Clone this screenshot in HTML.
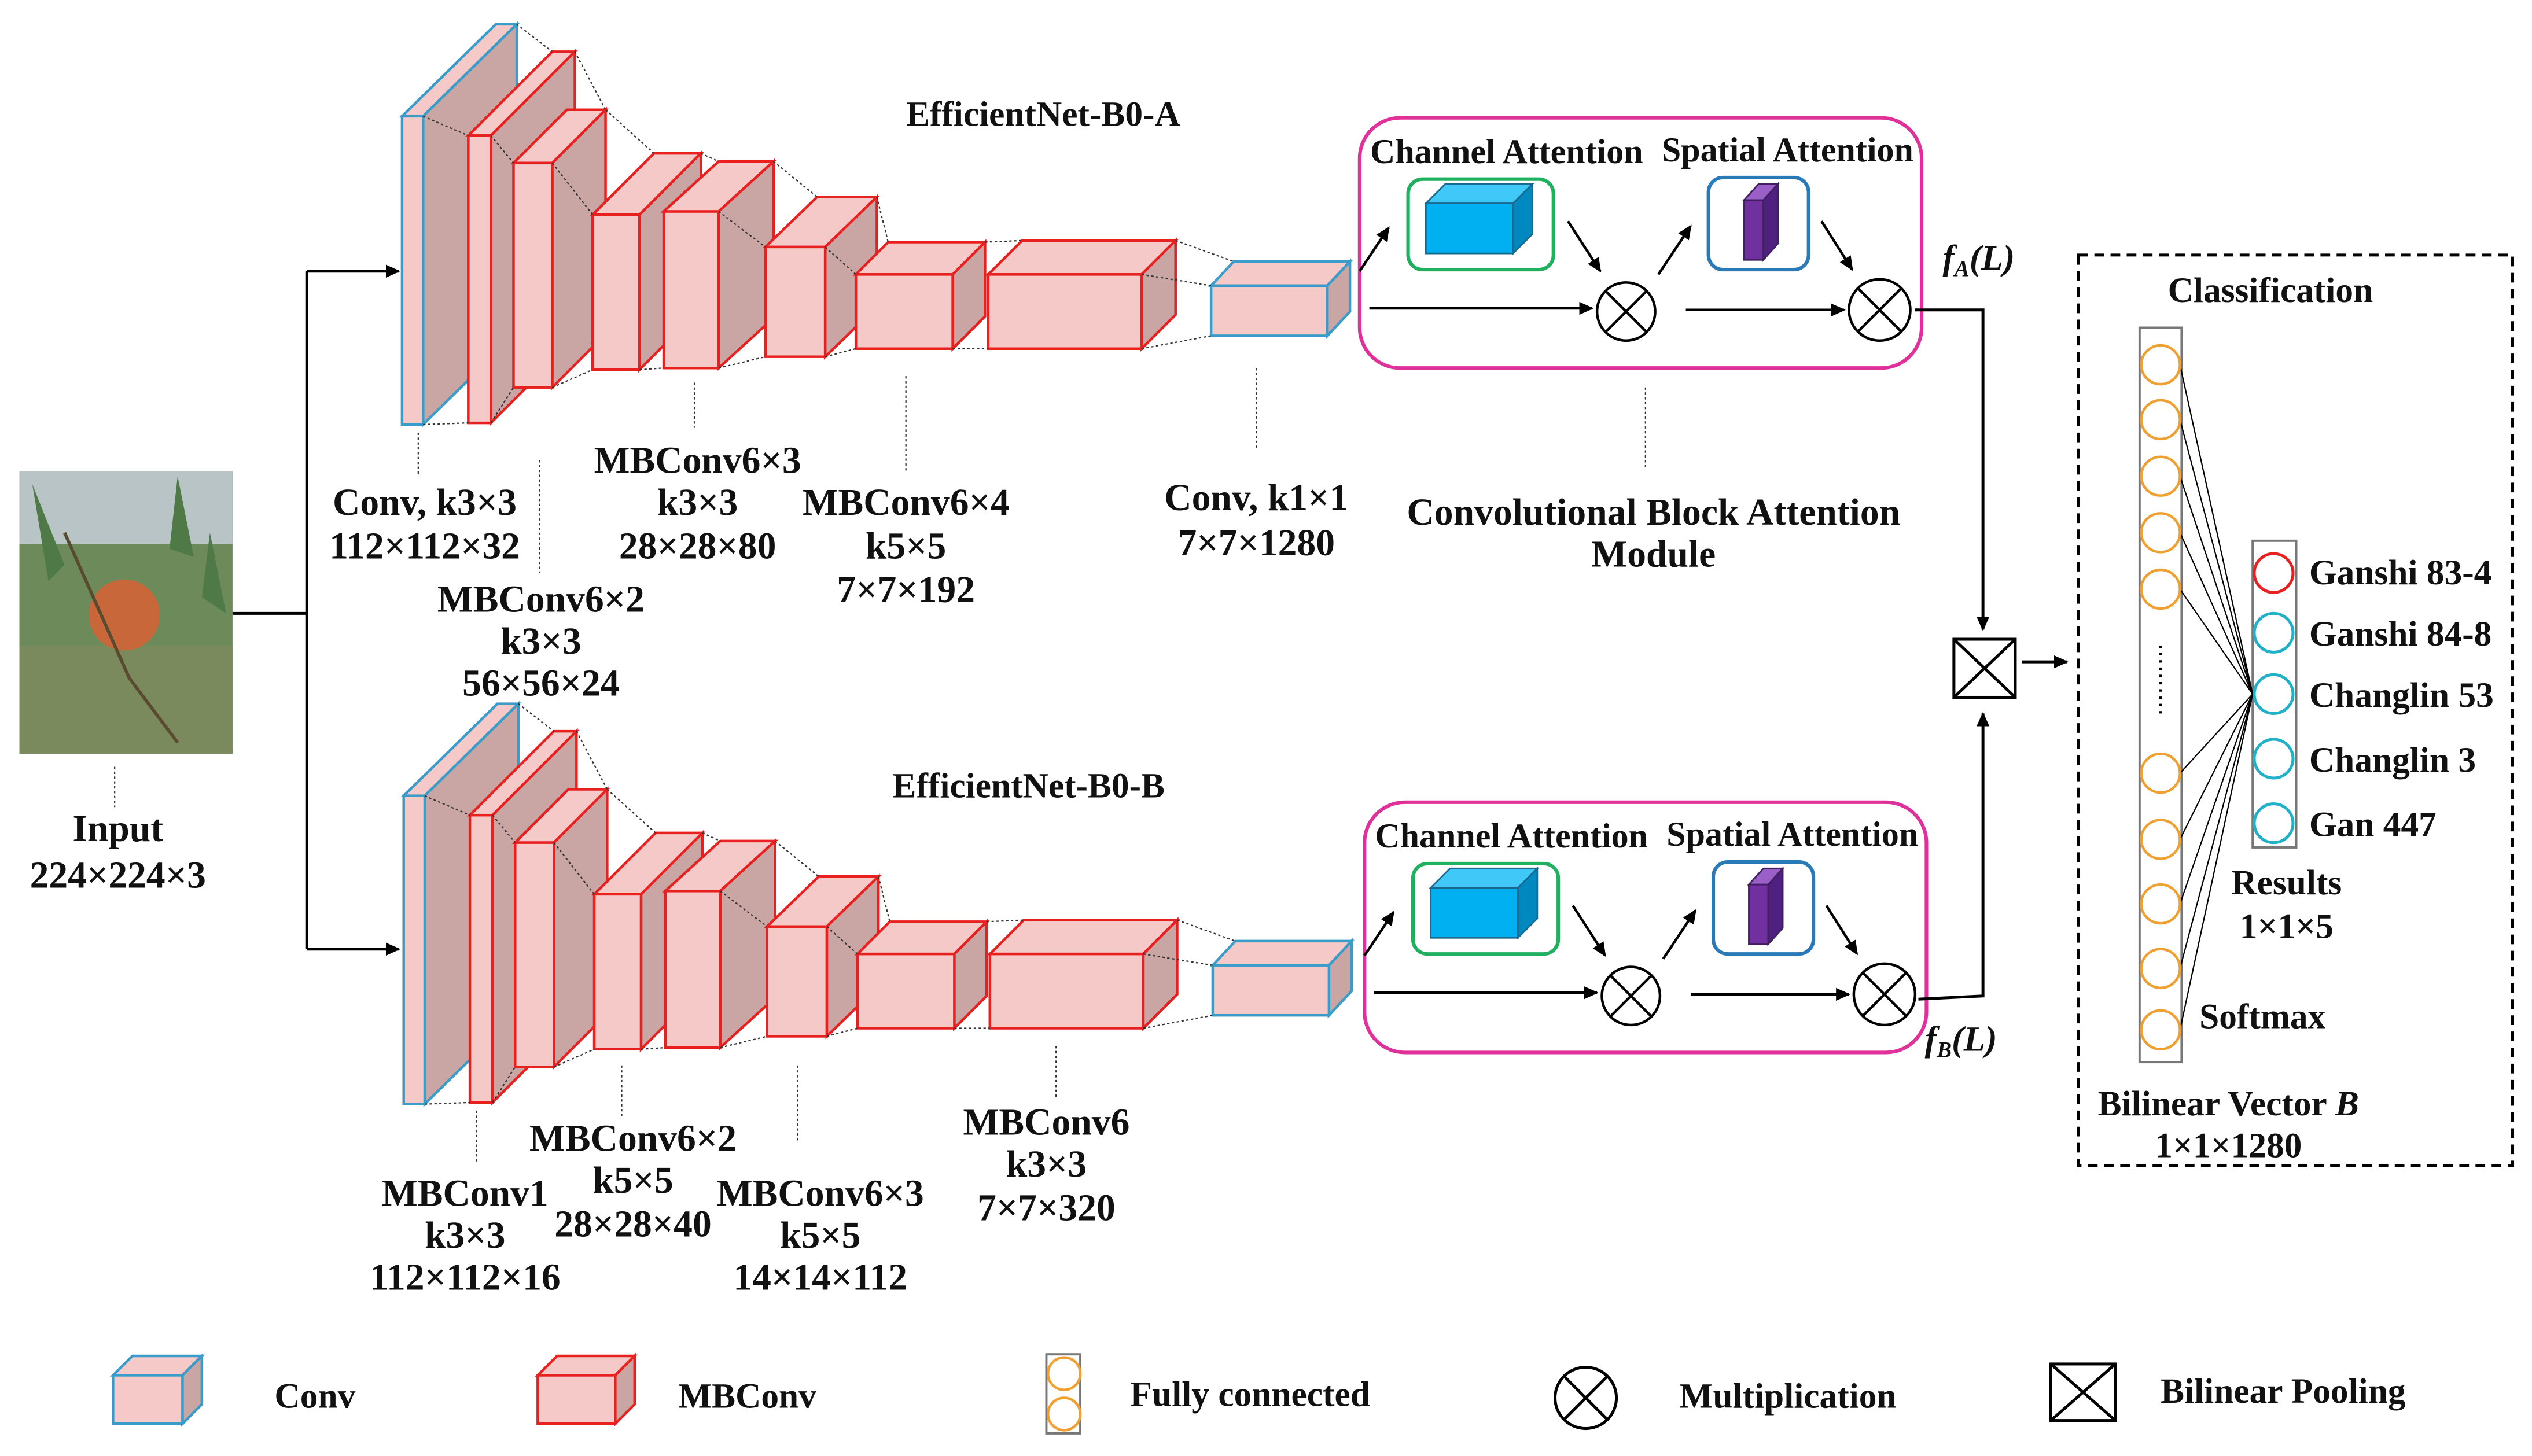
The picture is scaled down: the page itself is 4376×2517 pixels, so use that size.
<!DOCTYPE html>
<html><head><meta charset="utf-8"><style>
html,body{margin:0;padding:0;background:#fff;}
svg{display:block;}
text{font-family:"Liberation Serif",serif;font-weight:bold;fill:#111;}
</style></head><body>
<svg width="4376" height="2517" viewBox="0 0 1568 902" preserveAspectRatio="none" xmlns="http://www.w3.org/2000/svg">
<defs>
<marker id="ar" markerWidth="10" markerHeight="10" refX="8" refY="5" orient="auto" markerUnits="userSpaceOnUse"><path d="M0,1 L9,5 L0,9 z" fill="#000"/></marker>
<g id="net">
 <g fill="#f5c9c7" stroke-width="1.6">
  <g stroke="#3a9cc8">
   <polygon points="249,72 307,15 320,15 262,72"/><polygon points="262,72 320,15 320,206 262,263" fill="#c9a5a3"/><rect x="249" y="72" width="13" height="191"/>
  </g>
  <g stroke="#e82020">
   <polygon points="290,84 342,32 356,32 304,84"/><polygon points="304,84 356,32 356,210 304,262" fill="#c9a5a3"/><rect x="290" y="84" width="14" height="178"/>
   <polygon points="318,101 351,68 375,68 342,101"/><polygon points="342,101 375,68 375,207 342,240" fill="#c9a5a3"/><rect x="318" y="101" width="24" height="139"/>
   <polygon points="367,133 405,95 434,95 396,133"/><polygon points="396,133 434,95 434,191 396,229" fill="#c9a5a3"/><rect x="367" y="133" width="29" height="96"/>
   <polygon points="411,131 445,100 479,100 445,131"/><polygon points="445,131 479,100 479,197 445,228" fill="#c9a5a3"/><rect x="411" y="131" width="34" height="97"/>
   <polygon points="474,153 506,122 543,122 511,153"/><polygon points="511,153 543,122 543,190 511,221" fill="#c9a5a3"/><rect x="474" y="153" width="37" height="68"/>
   <polygon points="530,170 550,150 610,150 590,170"/><polygon points="590,170 610,150 610,196 590,216" fill="#c9a5a3"/><rect x="530" y="170" width="60" height="46"/>
   <polygon points="612,170 633,149 728,149 707,170"/><polygon points="707,170 728,149 728,195 707,216" fill="#c9a5a3"/><rect x="612" y="170" width="95" height="46"/>
  </g>
  <g stroke="#3a9cc8">
   <polygon points="750,177 764,162 836,162 822,177"/><polygon points="822,177 836,162 836,193 822,208" fill="#c9a5a3"/><rect x="750" y="177" width="72" height="31"/>
  </g>
 </g>
 <g stroke="#333" stroke-width="0.8" stroke-dasharray="1.5,1.5" fill="none">
  <path d="M320,15 L342,32 M356,32 L375,68 M375,68 L405,95 M434,95 L445,100 M479,100 L506,122 M543,122 L550,150 M610,150 L633,149 M728,149 L764,162"/>
  <path d="M262,263 L290,262 M304,262 L318,240 M342,240 L367,229 M396,229 L411,228 M445,228 L474,221 M511,221 L530,216 M590,216 L612,216 M707,216 L750,208 M707,170 L750,177"/>
  <path d="M262,72 L290,84 M304,84 L318,101 M342,101 L367,133 M445,131 L474,153 M511,153 L530,170"/>
 </g>
</g>
<g id="cbam">
 <rect x="842" y="73" width="348" height="155" rx="25" fill="none" stroke="#e0309a" stroke-width="2.2"/>
 <rect x="872" y="111" width="90" height="56" rx="9" fill="none" stroke="#20b060" stroke-width="2.2"/>
 <polygon points="883,126 895,114 949,114 937,126" fill="#40c8f8" stroke="#1a6a90"/>
 <polygon points="937,126 949,114 949,145 937,157" fill="#0088c0" stroke="#1a6a90"/>
 <rect x="883" y="126" width="54" height="31" fill="#00b0f0" stroke="#1a6a90"/>
 <rect x="1058" y="110" width="62" height="57" rx="9" fill="none" stroke="#2a7ab8" stroke-width="2.2"/>
 <polygon points="1080,124 1089,114 1101,114 1092,124" fill="#9a60c8" stroke="#402060"/>
 <polygon points="1092,124 1101,114 1101,151 1092,161" fill="#502080" stroke="#402060"/>
 <rect x="1080" y="124" width="12" height="37" fill="#7030a0" stroke="#402060"/>
 <g fill="none" stroke="#000" stroke-width="1.6">
  <circle cx="1007" cy="193" r="18"/><path d="M994,180 L1020,206 M1020,180 L994,206"/>
  <circle cx="1164" cy="192" r="19"/><path d="M1151,179 L1177,205 M1177,179 L1151,205"/>
  <path d="M842,168 L860,141" marker-end="url(#ar)"/>
  <path d="M848,191 L986,191" marker-end="url(#ar)"/>
  <path d="M971,137 L991,168" marker-end="url(#ar)"/>
  <path d="M1027,170 L1047,140" marker-end="url(#ar)"/>
  <path d="M1044,192 L1142,192" marker-end="url(#ar)"/>
  <path d="M1128,137 L1147,167" marker-end="url(#ar)"/>
 </g>
 <text x="933" y="101" font-size="21.5" text-anchor="middle">Channel Attention</text>
 <text x="1107" y="100" font-size="21.5" text-anchor="middle">Spatial Attention</text>
</g>
</defs>

<use href="#net"/>
<use href="#net" transform="translate(1,421)"/>
<use href="#cbam"/>
<use href="#cbam" transform="translate(3,424)"/>

<!-- input image -->
<rect x="12" y="292" width="132" height="175" fill="#6d8a5a"/>
<rect x="12" y="292" width="132" height="45" fill="#b8c4c6"/>
<path d="M20,300 L40,350 L30,360 Z M110,295 L120,345 L105,340 Z M130,330 L140,380 L125,370 Z" fill="#4f7a48"/>
<rect x="12" y="400" width="132" height="67" fill="#7a8a5c"/>
<circle cx="77" cy="381" r="22" fill="#c8683a"/>
<path d="M40,330 L80,420 L110,460" stroke="#5a4a30" stroke-width="2" fill="none"/>
<g stroke="#333" stroke-width="0.8" stroke-dasharray="1.5,1.5">
 <path d="M71,475 L71,500 M259,268 L259,295 M334,285 L334,355 M430,237 L430,265 M561,233 L561,293 M778,228 L778,278 M1019,240 L1019,290"/>
 <path d="M295,688 L295,720 M385,660 L385,692 M494,660 L494,707 M654,648 L654,680"/>
</g>
<g fill="none" stroke="#000" stroke-width="1.8">
 <path d="M144,380 L190,380 M190,168 L190,588"/>
 <path d="M190,168 L247,168" marker-end="url(#ar)"/>
 <path d="M190,588 L247,588" marker-end="url(#ar)"/>
 <path d="M1186,192 L1228,192 L1228,390" marker-end="url(#ar)"/>
 <path d="M1188,619 L1228,617 L1228,442" marker-end="url(#ar)"/>
 <rect x="1210" y="396" width="38" height="36"/>
 <path d="M1210,396 L1248,432 M1248,396 L1210,432"/>
 <path d="M1252,410 L1280,410" marker-end="url(#ar)"/>
</g>

<!-- classification -->
<rect x="1287" y="158" width="269" height="564" fill="none" stroke="#000" stroke-width="1.8" stroke-dasharray="6,4"/>
<rect x="1325" y="203" width="26" height="455" fill="none" stroke="#777" stroke-width="1.4"/>
<rect x="1395" y="335" width="27" height="190" fill="none" stroke="#777" stroke-width="1.4"/>
<g stroke="#000" stroke-width="0.8">
 <path d="M1350,226 L1395,430 M1350,260 L1395,430 M1350,295 L1395,430 M1350,330 L1395,430 M1350,365 L1395,430 M1350,479 L1395,430 M1350,520 L1395,430 M1350,560 L1395,430 M1350,600 L1395,430 M1350,638 L1395,430"/>
</g>
<g fill="#fff" stroke="#f0a030" stroke-width="1.6">
 <circle cx="1338" cy="226" r="12"/><circle cx="1338" cy="260" r="12"/><circle cx="1338" cy="295" r="12"/><circle cx="1338" cy="330" r="12"/><circle cx="1338" cy="365" r="12"/>
 <circle cx="1338" cy="479" r="12"/><circle cx="1338" cy="520" r="12"/><circle cx="1338" cy="560" r="12"/><circle cx="1338" cy="600" r="12"/><circle cx="1338" cy="638" r="12"/>
</g>
<path d="M1338,400 L1338,445" stroke="#000" stroke-width="1.5" stroke-dasharray="1.5,3"/>
<g fill="#fff" stroke-width="1.8">
 <circle cx="1408" cy="355" r="12" stroke="#e82020"/>
 <circle cx="1408" cy="392" r="12" stroke="#20b0c8"/>
 <circle cx="1408" cy="430" r="12" stroke="#20b0c8"/>
 <circle cx="1408" cy="470" r="12" stroke="#20b0c8"/>
 <circle cx="1408" cy="510" r="12" stroke="#20b0c8"/>
</g>

<!-- legend -->
<g stroke-width="1.6" fill="#f5c9c7">
 <polygon points="70,852 82,840 125,840 113,852" stroke="#3a9cc8"/><polygon points="113,852 125,840 125,870 113,882" fill="#c9a5a3" stroke="#3a9cc8"/><rect x="70" y="852" width="43" height="30" stroke="#3a9cc8"/>
 <polygon points="333,852 345,840 393,840 381,852" stroke="#e82020"/><polygon points="381,852 393,840 393,870 381,882" fill="#c9a5a3" stroke="#e82020"/><rect x="333" y="852" width="48" height="30" stroke="#e82020"/>
</g>
<rect x="648" y="839" width="21" height="49" fill="none" stroke="#777" stroke-width="1.4"/>
<circle cx="659" cy="851" r="10" fill="#fff" stroke="#f0a030" stroke-width="1.6"/>
<circle cx="659" cy="876" r="10" fill="#fff" stroke="#f0a030" stroke-width="1.6"/>
<g fill="none" stroke="#000" stroke-width="1.8">
 <circle cx="982" cy="866" r="19"/><path d="M969,853 L995,879 M995,853 L969,879"/>
 <rect x="1270" y="845" width="40" height="35"/><path d="M1270,845 L1310,880 M1310,845 L1270,880"/>
</g>

<!-- texts -->
<g font-size="23.5" text-anchor="middle">
 <text x="646" y="78" font-size="22">EfficientNet-B0-A</text>
 <text x="637" y="494" font-size="22">EfficientNet-B0-B</text>
 <text x="263" y="319">Conv, k3×3</text><text x="263" y="346">112×112×32</text>
 <text x="432" y="293">MBConv6×3</text><text x="432" y="319">k3×3</text><text x="432" y="346">28×28×80</text>
 <text x="561" y="319">MBConv6×4</text><text x="561" y="346">k5×5</text><text x="561" y="373">7×7×192</text>
 <text x="778" y="316">Conv, k1×1</text><text x="778" y="344">7×7×1280</text>
 <text x="335" y="379">MBConv6×2</text><text x="335" y="405">k3×3</text><text x="335" y="431">56×56×24</text>
 <text x="1024" y="325">Convolutional Block Attention</text><text x="1024" y="351">Module</text>
 <text x="73" y="521">Input</text><text x="73" y="550">224×224×3</text>
 <text x="288" y="747">MBConv1</text><text x="288" y="773">k3×3</text><text x="288" y="799">112×112×16</text>
 <text x="392" y="713">MBConv6×2</text><text x="392" y="739">k5×5</text><text x="392" y="766">28×28×40</text>
 <text x="508" y="747">MBConv6×3</text><text x="508" y="773">k5×5</text><text x="508" y="799">14×14×112</text>
 <text x="648" y="703">MBConv6</text><text x="648" y="729">k3×3</text><text x="648" y="756">7×7×320</text>
 <text x="1406" y="187" font-size="22">Classification</text>
 <text x="1416" y="554" font-size="22">Results</text><text x="1416" y="581" font-size="22">1×1×5</text>
 <text x="1380" y="691" font-size="22">Bilinear Vector <tspan font-style="italic">B</tspan></text><text x="1380" y="717" font-size="22">1×1×1280</text>
</g>
<g font-size="22">
 <text x="1430" y="362">Ganshi 83-4</text>
 <text x="1430" y="400">Ganshi 84-8</text>
 <text x="1430" y="438">Changlin 53</text>
 <text x="1430" y="478">Changlin 3</text>
 <text x="1430" y="518">Gan 447</text>
 <text x="1362" y="637">Softmax</text>
 <text x="1203" y="167" font-style="italic">f<tspan font-size="14" dy="4">A</tspan><tspan dy="-4">(L)</tspan></text>
 <text x="1192" y="651" font-style="italic">f<tspan font-size="14" dy="4">B</tspan><tspan dy="-4">(L)</tspan></text>
 <text x="170" y="872">Conv</text>
 <text x="420" y="872">MBConv</text>
 <text x="700" y="871">Fully connected</text>
 <text x="1040" y="872">Multiplication</text>
 <text x="1338" y="869">Bilinear Pooling</text>
</g>
</svg>
</body></html>
